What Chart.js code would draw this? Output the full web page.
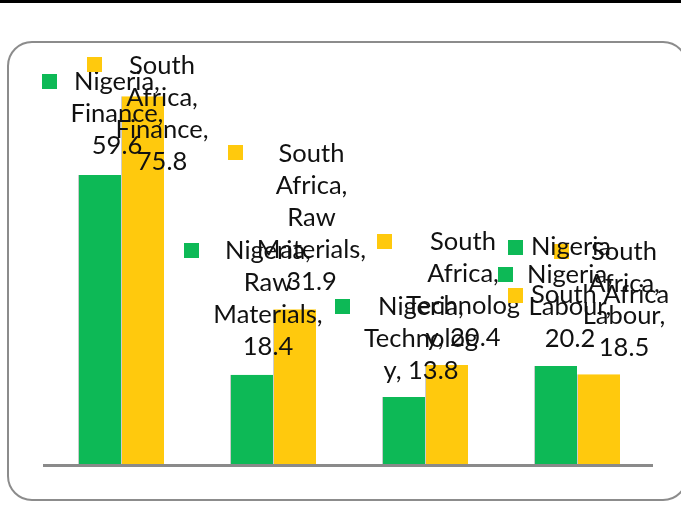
<!DOCTYPE html>
<html><head><meta charset="utf-8">
<script src="https://cdn.jsdelivr.net/npm/chart.js@4"></script>
<style>html,body{margin:0;padding:0;background:#fff}#wrap{width:681px;height:512px;position:relative}</style>
</head><body><div id="wrap"><canvas id="c" width="681" height="512"></canvas></div>
<script>
const categories = ['Finance', 'Raw Materials', 'Technology', 'Labour'];
const seriesNames = ['Nigeria', 'South Africa'];
const nigeriaValues = [59.6, 18.4, 13.8, 20.2];
const southAfricaValues = [75.8, 31.9, 20.4, 18.5];

// label placement (style): offsets from bar top-centre, wrap widths in characters
const labelOffsets = [
  [{dx: 17.5, dy: -93}, {dx: 16.5, dy: -124}, {dx: 17.5, dy: -90}, {dx: 14.5, dy: -91}],
  [{dx: 19.5, dy: -31}, {dx: 17, dy: -156}, {dx: 16.5, dy: -123}, {dx: 25.5, dy: -122}]
];
const wrapWidth = [9, 10, 9, 9];
const colors = ['#0db956', '#ffc90d'];
const FONT = 'Lato';
const FS = 25.5;
const LH = 32;

function wrapChars(text, max) {
  const words = text.split(' ');
  const lines = []; let cur = '';
  for (let w of words) {
    while (w.length > max) {
      if (cur) { lines.push(cur); cur = ''; }
      lines.push(w.slice(0, max)); w = w.slice(max);
    }
    const cand = cur ? cur + ' ' + w : w;
    if (cand.length <= max) cur = cand; else { if (cur) lines.push(cur); cur = w; }
  }
  if (cur) lines.push(cur);
  return lines;
}

const decor = {
  id: 'decor',
  beforeDraw(chart) {
    const ctx = chart.ctx;
    ctx.save();
    ctx.fillStyle = '#fff';
    ctx.fillRect(0, 0, chart.width, chart.height);
    ctx.fillStyle = '#000';
    ctx.fillRect(0, 0, chart.width, 3);
    // rounded frame
    const x = 8, y = 42, w = 679, h = 458, r = 24;
    ctx.beginPath();
    ctx.moveTo(x + r, y);
    ctx.lineTo(x + w - r, y);
    ctx.arcTo(x + w, y, x + w, y + r, r);
    ctx.lineTo(x + w, y + h - r);
    ctx.arcTo(x + w, y + h, x + w - r, y + h, r);
    ctx.lineTo(x + r, y + h);
    ctx.arcTo(x, y + h, x, y + h - r, r);
    ctx.lineTo(x, y + r);
    ctx.arcTo(x, y, x + r, y, r);
    ctx.closePath();
    ctx.strokeStyle = '#8c8c8c';
    ctx.lineWidth = 2;
    ctx.stroke();
    ctx.restore();
  },
  afterDatasetsDraw(chart) {
    const ctx = chart.ctx;
    const a = chart.chartArea;
    ctx.save();
    ctx.strokeStyle = '#8a8a8a';
    ctx.lineWidth = 3;
    ctx.beginPath();
    ctx.moveTo(a.left - 2, a.bottom + 1.5);
    ctx.lineTo(a.right, a.bottom + 1.5);
    ctx.stroke();

    ctx.font = FS + 'px ' + FONT;
    ctx.textBaseline = 'middle';
    chart.data.datasets.forEach((ds, i) => {
      const meta = chart.getDatasetMeta(i);
      meta.data.forEach((el, j) => {
        const text = seriesNames[i] + ', ' + categories[j] + ', ' + ds.data[j];
        const lines = wrapChars(text, wrapWidth[j]);
        const off = labelOffsets[i][j];
        const cx = el.x + off.dx;
        const y0 = el.y + off.dy;
        let maxW = 0;
        lines.forEach(l => { maxW = Math.max(maxW, ctx.measureText(l).width); });
        ctx.fillStyle = colors[i];
        ctx.fillRect(Math.round(cx - maxW / 2 - 14 - 15), Math.round(y0 - 8), 15, 15);
        ctx.fillStyle = '#111';
        ctx.textAlign = 'center';
        lines.forEach((l, k) => ctx.fillText(l, cx, y0 + k * LH));
      });
    });
    // legend
    seriesNames.forEach((n, i) => {
      const ly = 247 + i * 48;
      ctx.fillStyle = colors[i];
      ctx.fillRect(508, ly - 7, 15, 15);
      ctx.fillStyle = '#111';
      ctx.textAlign = 'left';
      ctx.fillText(n, 531, ly);
    });
    ctx.restore();
  }
};

new Chart(document.getElementById('c'), {
  type: 'bar',
  data: {
    labels: categories,
    datasets: [
      {label: seriesNames[0], data: nigeriaValues, backgroundColor: colors[0], borderColor: 'rgba(170,170,170,0.6)', borderWidth: {left: 1, top: 0, right: 0, bottom: 0}},
      {label: seriesNames[1], data: southAfricaValues, backgroundColor: colors[1], borderColor: 'rgba(170,170,170,0.6)', borderWidth: {left: 1, top: 0, right: 0, bottom: 0}}
    ]
  },
  options: {
    responsive: false,
    animation: false,
    devicePixelRatio: 1,
    layout: {padding: {left: 45, right: 28, top: 76, bottom: 48}},
    datasets: {bar: {barPercentage: 1, categoryPercentage: 0.566}},
    scales: {
      x: {display: false},
      y: {display: false, min: 0, max: 80}
    },
    plugins: {legend: {display: false}, tooltip: {enabled: false}}
  },
  plugins: [decor]
});
</script>
</body></html>
